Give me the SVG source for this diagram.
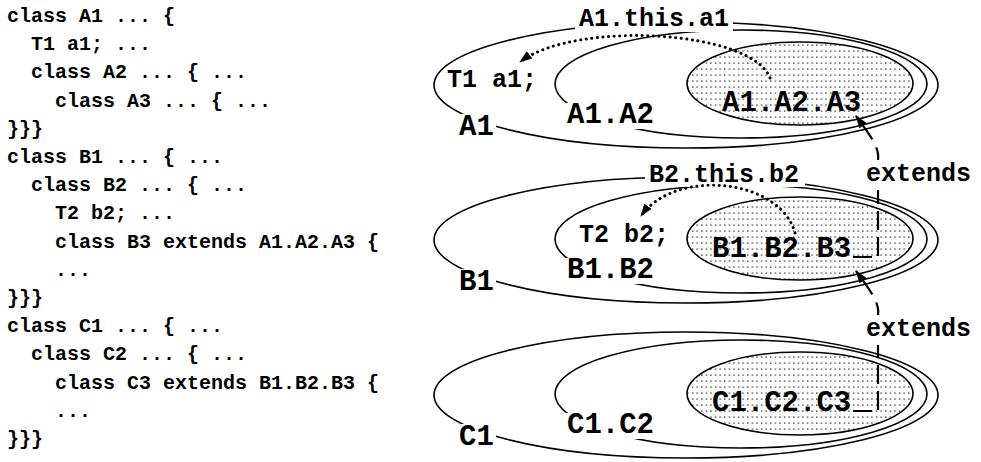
<svg xmlns="http://www.w3.org/2000/svg" width="981" height="462" viewBox="0 0 981 462">
<style>
text{font-family:"Liberation Mono","Courier New",monospace;font-weight:bold;fill:#000}
.code{font-size:20px}
.big{font-size:29px}
.mid{font-size:25px}
.ln{fill:none;stroke:#000;stroke-width:1.6}
.sh{fill:url(#dots);stroke:#000;stroke-width:1.6}
.bg{fill:#fff}
.dot{fill:none;stroke:#000;stroke-width:3;stroke-linecap:round;stroke-dasharray:0.1 5.5}
.dsh{fill:none;stroke:#000;stroke-width:2.2}
</style>
<defs>
<pattern id="dots" width="4.6" height="6" patternUnits="userSpaceOnUse">
<rect width="4.6" height="6" fill="#fff"/>
<rect x="2" y="2.5" width="1.2" height="1.2" fill="#000"/>
</pattern>
<marker id="ah" viewBox="0 0 13 9" refX="12" refY="4.5" markerWidth="13" markerHeight="9" markerUnits="userSpaceOnUse" orient="auto">
<path d="M0,0 L13,4.5 L0,9 z" fill="#000"/>
</marker>
</defs>

<g id="code" class="code">
<text class="code" x="7" y="22">class A1 ... {</text>
<text class="code" x="31" y="50">T1 a1; ...</text>
<text class="code" x="31" y="78">class A2 ... { ...</text>
<text class="code" x="55" y="107">class A3 ... { ...</text>
<text class="code" x="7" y="135">}}}</text>
<text class="code" x="7" y="163">class B1 ... { ...</text>
<text class="code" x="31" y="191">class B2 ... { ...</text>
<text class="code" x="55" y="219">T2 b2; ...</text>
<text class="code" x="55" y="248">class B3 extends A1.A2.A3 {</text>
<text class="code" x="55" y="276">...</text>
<text class="code" x="7" y="304">}}}</text>
<text class="code" x="7" y="332">class C1 ... { ...</text>
<text class="code" x="31" y="360">class C2 ... { ...</text>
<text class="code" x="55" y="389">class C3 extends B1.B2.B3 {</text>
<text class="code" x="55" y="417">...</text>
<text class="code" x="7" y="445">}}}</text>
</g>

<g id="A1">
<ellipse class="ln" cx="686" cy="85" rx="252" ry="63"/>
<rect class="bg" x="456" y="114" width="40" height="25"/>
<text class="big" x="459" y="135">A1</text>
<text class="mid" x="447" y="87">T1 a1;</text>
</g>
<g id="A1.A2">
<ellipse class="ln" cx="741" cy="84" rx="186" ry="54"/>
<rect class="bg" x="563" y="103" width="95" height="26"/>
<text class="big" x="567" y="123">A1.A2</text>
</g>
<g id="A1.A2.A3">
<ellipse class="sh" cx="800" cy="83.5" rx="113" ry="41.5"/>
<text class="big" x="722" y="111">A1.A2.A3</text>
</g>

<g id="B1">
<ellipse class="ln" cx="686" cy="240" rx="252" ry="63"/>
<rect class="bg" x="456" y="269" width="40" height="25"/>
<text class="big" x="459" y="290">B1</text>
</g>
<g id="B1.B2">
<ellipse class="ln" cx="741" cy="239" rx="186" ry="54"/>
<rect class="bg" x="563" y="258" width="95" height="26"/>
<text class="big" x="567" y="278">B1.B2</text>
<text class="mid" x="579" y="242">T2 b2;</text>
</g>
<g id="B1.B2.B3">
<ellipse class="sh" cx="800" cy="238.5" rx="113" ry="41.5"/>
<text class="big" x="712" y="257">B1.B2.B3</text>
</g>

<g id="C1">
<ellipse class="ln" cx="686" cy="395" rx="252" ry="63"/>
<rect class="bg" x="456" y="424" width="40" height="25"/>
<text class="big" x="459" y="445">C1</text>
</g>
<g id="C1.C2">
<ellipse class="ln" cx="741" cy="394" rx="186" ry="54"/>
<rect class="bg" x="563" y="413" width="95" height="26"/>
<text class="big" x="567" y="433">C1.C2</text>
</g>
<g id="C1.C2.C3">
<ellipse class="sh" cx="800" cy="393.5" rx="113" ry="41.5"/>
<text class="big" x="712" y="411">C1.C2.C3</text>
</g>

<g id="connectors">
<rect class="bg" x="575" y="6" width="158" height="26"/>
<text class="mid" x="579" y="26">A1.this.a1</text>
<path class="dot" d="M770 78 C752 30 575 20 520 62" marker-end="url(#ah)"/>
<rect class="bg" x="645" y="161" width="160" height="26"/>
<text class="mid" x="649" y="182">B2.this.b2</text>
<path class="dot" d="M795 233 C780 178 675 168 641 216" marker-end="url(#ah)"/>

<path class="dsh" d="M853 257 H878 V190" stroke-dasharray="19 7"/>
<path class="dsh" d="M878 160 C880 148 870 135 856 116" stroke-dasharray="13 9 60" marker-end="url(#ah)"/>
<text class="mid" x="866" y="181">extends</text>

<path class="dsh" d="M853 411 H878 V345" stroke-dasharray="19 7"/>
<path class="dsh" d="M878 315 C880 303 870 290 856 271" stroke-dasharray="13 9 60" marker-end="url(#ah)"/>
<text class="mid" x="866" y="336">extends</text>
</g>
</svg>
